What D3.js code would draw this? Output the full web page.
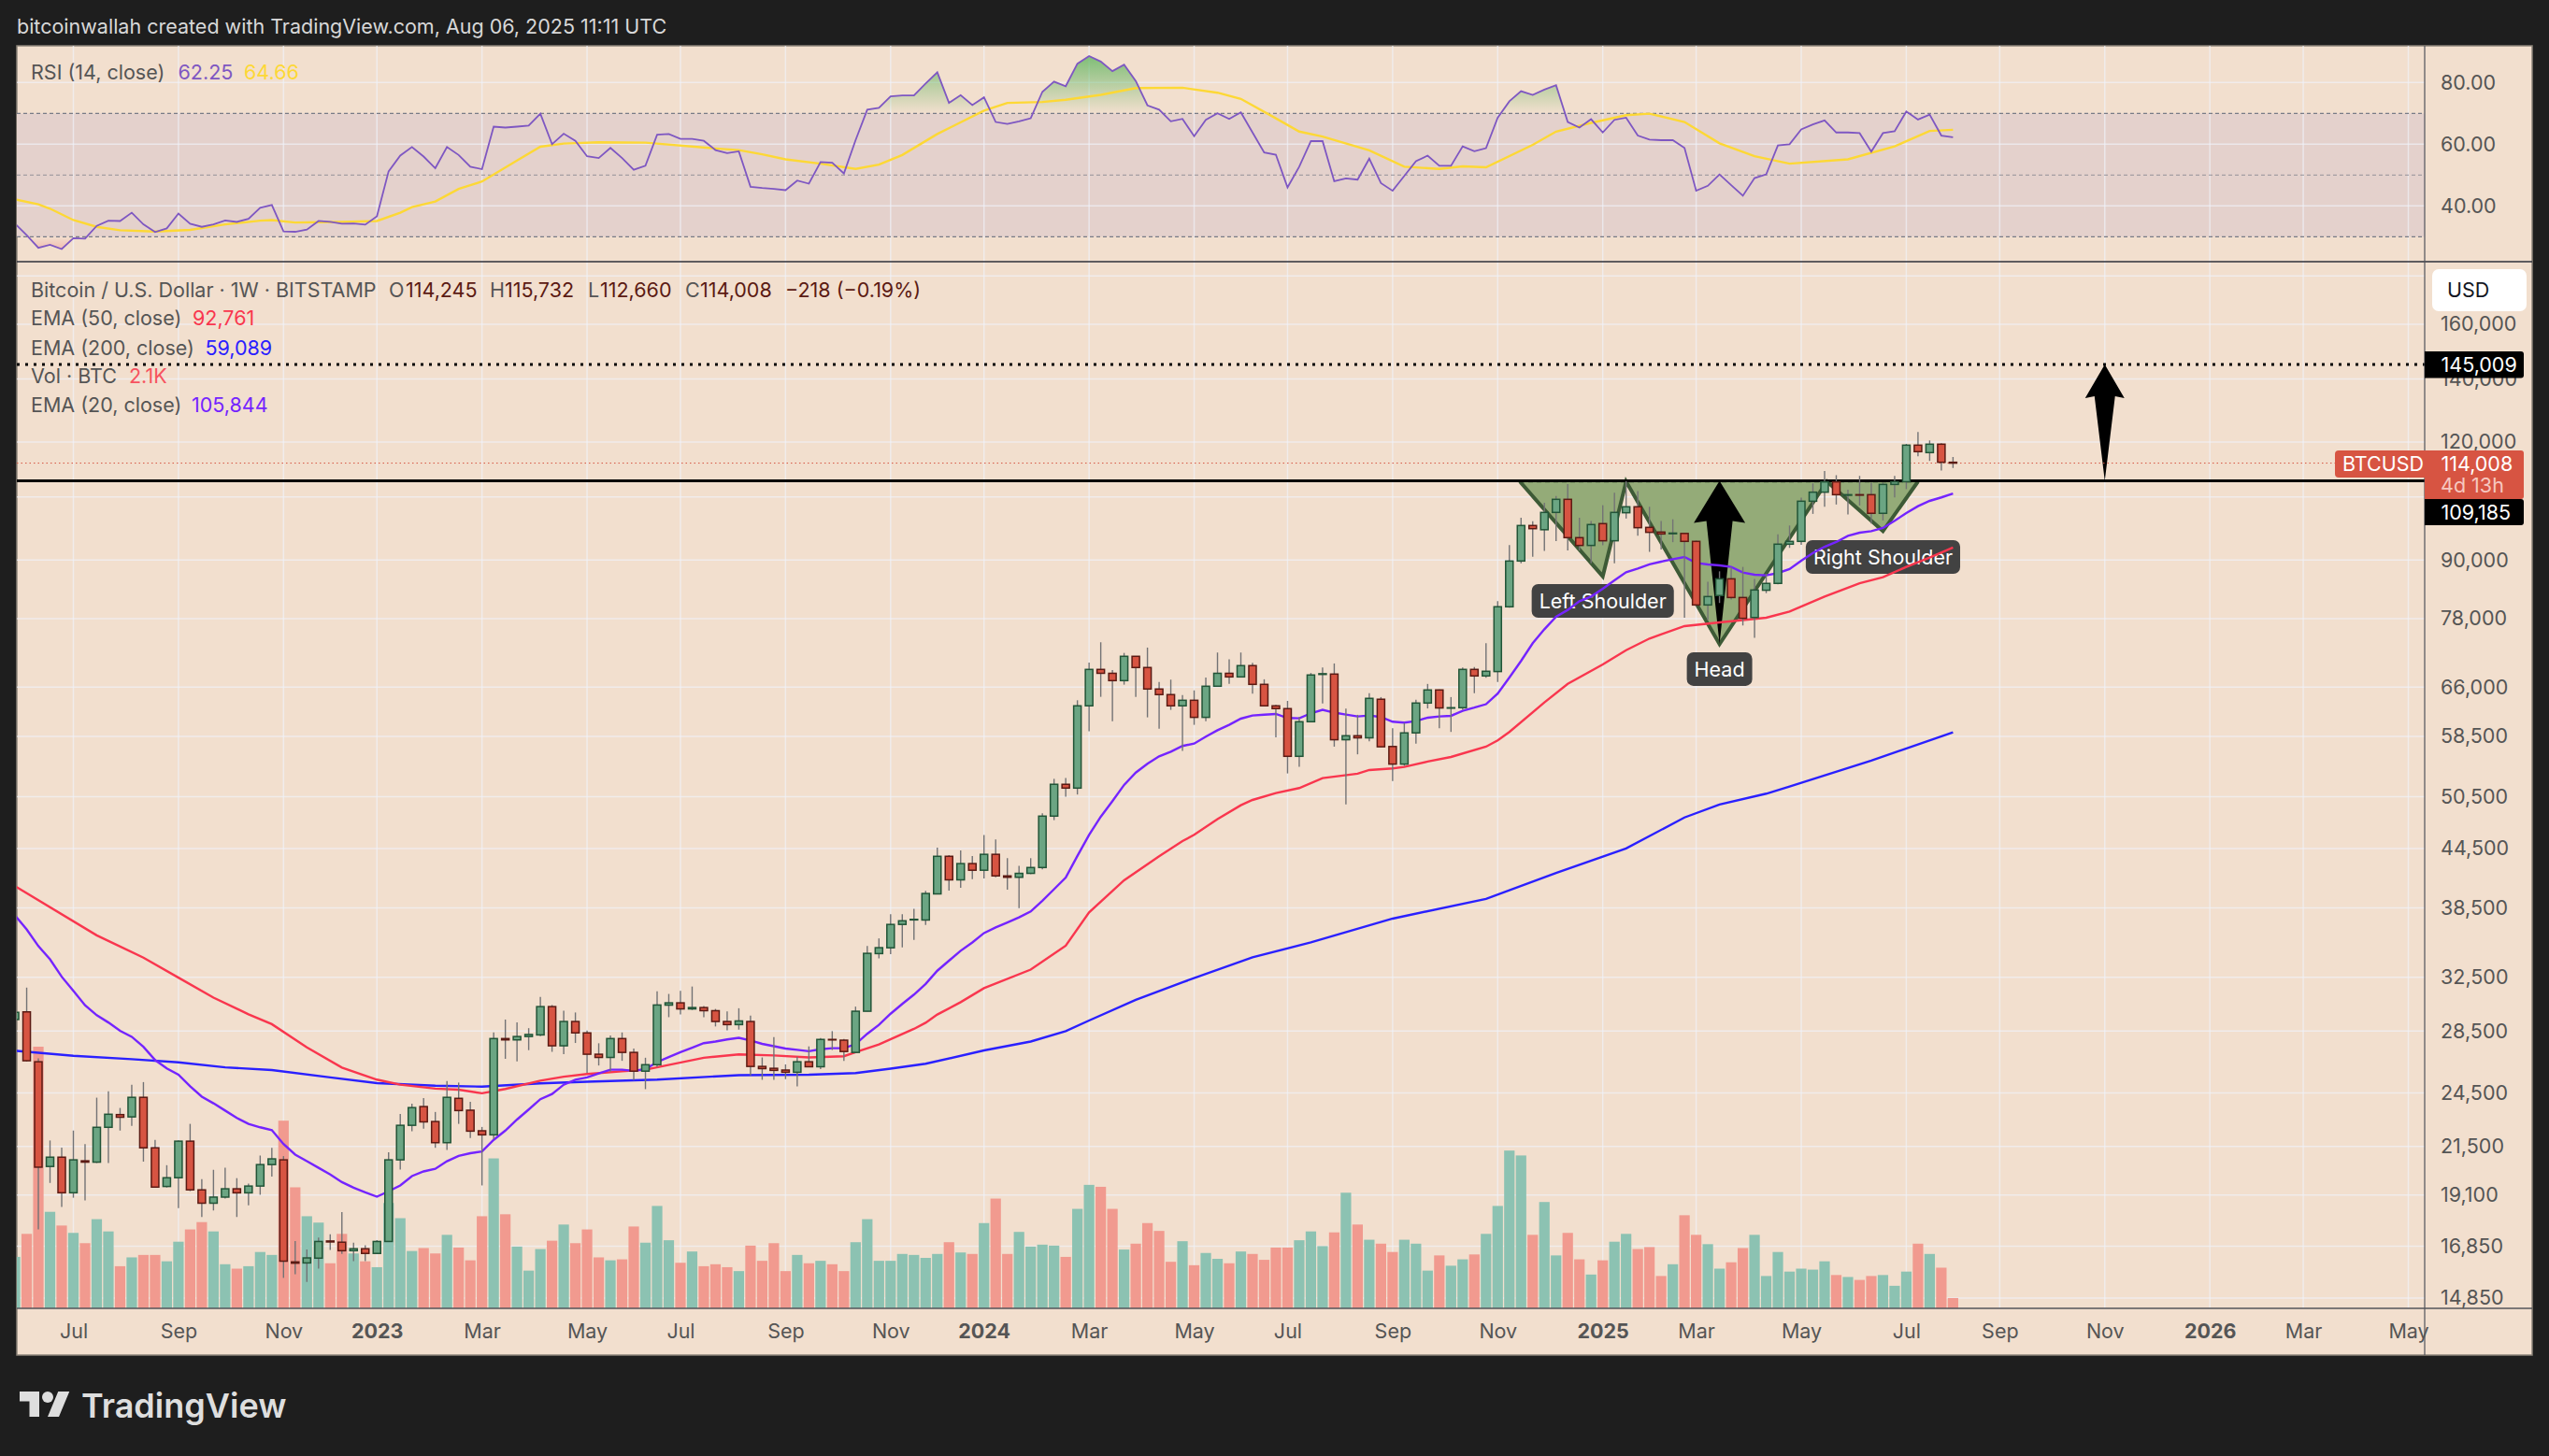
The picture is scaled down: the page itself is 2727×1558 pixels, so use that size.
<!DOCTYPE html>
<html>
<head>
<meta charset="utf-8">
<script src="https://cdn.jsdelivr.net/npm/d3@7"></script>
<style>
  html, body { margin: 0; padding: 0; background: #1e1e1e; }
  svg { display: block; }
  text { font-family: Inter, "Noto Sans", sans-serif; }
</style>
</head>
<body>
<div id="chart"></div>
<script>
// week 0 is the candle of Jul 4 2022, the first candle drawn is week -5
var firstWeek = -5;

var opens = [
  29310, 29864, 26440, 20476, 20946, 19203, 20760, 20693, 22530, 23240,
  23110, 24240, 21430, 19500, 19920, 21780, 19340, 18720, 19000, 19390,
  19200, 19520, 20570, 20810, 16220, 16180, 16370, 17070, 17020, 16670,
  16750, 16560, 17050, 20810, 22640, 23700, 22850, 21700, 24180, 23490,
  22340, 22120, 27980, 27890, 28120, 28230, 30250, 27490, 29170, 28370,
  26930, 26720, 27980, 27050, 25840, 26250, 30360, 30530, 30080, 30180,
  29950, 29170, 28950, 29170, 26140, 26020, 25910, 25770, 26440, 26120,
  27920, 27870, 27050, 29910, 34430, 34920, 36970, 37380, 37370, 39830,
  43660, 41220, 42890, 42200, 43870, 41620, 41480, 41880, 42480, 48160,
  52050, 51570, 63040, 68900, 68250, 67040, 71140, 69220, 65680, 64790,
  63040, 63900, 61290, 66130, 68250, 67650, 69540, 66430, 63040, 62610,
  55730, 60640, 68060, 68120, 58030, 58600, 58300, 64060, 57080, 54680,
  59010, 63470, 65530, 62710, 62750, 68900, 67810, 68540, 80280, 89770,
  97900, 96900, 101080, 104360, 95040, 93250, 98350, 94320, 101000, 102480,
  97450, 96350, 95960, 96020, 94180, 80640, 82520, 85950, 82120, 78210,
  83590, 85000, 93540, 94180, 103880, 106200, 108900, 105400, 105550, 105550,
  100860, 108230, 108950, 119120, 116970, 119400, 114245
];
var highs = [
  31900, 31686, 26660, 21817, 21440, 22352, 21620, 24220, 24600, 23620,
  25000, 25160, 21850, 20540, 21820, 22720, 19850, 20310, 20410, 19900,
  19640, 21030, 21430, 21000, 17070, 16720, 17210, 17350, 18320, 17000,
  16890, 17110, 21200, 23280, 23870, 24200, 23390, 25220, 25130, 23970,
  22550, 28400, 29310, 29110, 28700, 30980, 30370, 29950, 29820, 28530,
  27660, 28190, 28400, 27300, 26700, 31400, 31200, 31440, 31770, 30300,
  30080, 29900, 30130, 29600, 26720, 28080, 26270, 26760, 27450, 28010,
  28490, 27950, 30250, 35070, 35730, 37910, 37910, 38400, 40120, 44600,
  43800, 44300, 43700, 46000, 45500, 43470, 42660, 43460, 48500, 52750,
  52870, 63900, 70070, 73620, 68780, 71730, 71200, 72670, 66830, 67200,
  64720, 65460, 67560, 71800, 70620, 71800, 70000, 67260, 63200, 63800,
  61350, 68300, 69240, 69910, 62610, 61670, 65000, 64400, 59670, 60470,
  64000, 66500, 65600, 64400, 69240, 69300, 73440, 81390, 93350, 99780,
  98900, 103500, 105200, 108290, 99780, 98990, 102870, 106050, 109070, 106500,
  102480, 98990, 99400, 96100, 94400, 85340, 87540, 88490, 88490, 85950,
  87000, 95830, 97900, 104800, 108500, 111840, 110700, 106860, 110500, 108660,
  108660, 110500, 119500, 122990, 120500, 119700, 115732
];
var lows = [
  28700, 26450, 17560, 19670, 18550, 18972, 18848, 20650, 20650, 22352,
  22610, 20720, 19440, 19450, 18500, 19280, 18100, 18390, 18930, 18100,
  18620, 19110, 19980, 15600, 15740, 15450, 15960, 16700, 16540, 16250,
  16250, 16530, 17050, 20320, 22320, 22460, 21430, 21320, 22720, 21950,
  19550, 21890, 26630, 26470, 27200, 28140, 27090, 26940, 27680, 25740,
  26200, 25800, 26500, 25290, 24730, 26100, 29480, 29670, 30000, 29480,
  28820, 28550, 28600, 25580, 25300, 25300, 25340, 24900, 26100, 25970,
  27210, 26490, 27000, 29900, 34030, 34380, 34960, 35590, 36930, 39830,
  40150, 40430, 41300, 41350, 41480, 40250, 38470, 41800, 42300, 47690,
  50490, 50770, 59230, 64440, 60730, 66380, 64440, 61290, 59630, 62420,
  56460, 60180, 60730, 66100, 66500, 67600, 64950, 63000, 58370, 53450,
  54330, 60600, 63420, 57060, 49570, 56000, 57800, 57000, 52480, 54450,
  57480, 62640, 59700, 59150, 62450, 65030, 67500, 66800, 80100, 89300,
  90720, 92030, 94260, 92130, 92130, 89300, 93300, 89300, 99580, 95500,
  91800, 92340, 94000, 78160, 80400, 77700, 81030, 81700, 76700, 74430,
  83000, 84800, 92700, 93400, 100720, 102500, 103050, 100560, 102800, 98350,
  99120, 104870, 107000, 115900, 114630, 111930, 112660
];
var closes = [
  29830, 26505, 20440, 20946, 19203, 20810, 20693, 22530, 23260, 23090,
  24240, 21430, 19470, 19920, 21780, 19340, 18720, 19000, 19390, 19200,
  19520, 20570, 20860, 16250, 16170, 16380, 17050, 17030, 16670, 16750,
  16560, 17050, 20810, 22640, 23640, 22830, 21700, 24240, 23470, 22320,
  22120, 27980, 27890, 28120, 28260, 30250, 27490, 29170, 28370, 26930,
  26720, 27980, 27050, 25840, 26250, 30370, 30530, 30080, 30180, 29950,
  29170, 28950, 29210, 26140, 26000, 25890, 25770, 26440, 26120, 27920,
  27900, 27110, 29910, 34450, 34930, 36970, 37300, 37430, 39870, 43660,
  41220, 42890, 42200, 43870, 41620, 41480, 41880, 42480, 48160, 52050,
  51570, 63040, 68900, 68250, 67040, 71140, 69220, 65680, 64790, 63040,
  63900, 61290, 66130, 68250, 67650, 69540, 66430, 63040, 62610, 55730,
  60640, 67970, 68180, 58030, 58600, 58300, 64200, 57040, 54680, 59010,
  63470, 65530, 62710, 62750, 68900, 67810, 68590, 80290, 89770, 97900,
  97150, 101080, 104360, 95040, 93250, 98130, 94320, 101080, 102480, 97380,
  96280, 95900, 96100, 94180, 80640, 82310, 85950, 82120, 78050, 83640,
  85000, 93540, 94180, 103880, 106200, 108900, 105550, 105550, 105450, 100860,
  108230, 108950, 119120, 117240, 119400, 114245, 114008
];
// volume in thousands of BTC
var volumes = [
  10.5, 15.2, 53.4, 19.7, 16.9, 15.4, 13.3, 18.2, 15.7, 8.6,
  10.4, 10.9, 10.9, 9.6, 13.6, 16.1, 17.6, 15.7, 9.0, 8.1,
  8.6, 11.5, 10.9, 38.3, 24.7, 18.8, 17.5, 9.2, 15.2, 11.2,
  9.6, 8.4, 21.5, 18.4, 11.7, 12.3, 11.2, 15.0, 12.4, 9.8,
  18.8, 30.6, 19.2, 12.6, 7.7, 12.1, 13.8, 17.1, 13.3, 16.1,
  10.4, 9.8, 10.0, 16.7, 13.4, 20.9, 13.9, 9.3, 11.6, 8.6,
  9.0, 8.4, 7.6, 12.8, 9.7, 13.3, 7.6, 10.9, 9.2, 9.7,
  9.0, 7.6, 13.5, 18.2, 9.7, 9.7, 11.1, 10.9, 10.3, 11.1,
  13.5, 11.4, 11.1, 17.4, 22.4, 11.1, 15.6, 12.6, 13.0, 12.8,
  10.5, 20.3, 25.2, 24.8, 20.3, 12.0, 13.2, 17.4, 15.8, 9.5,
  13.7, 8.8, 11.3, 10.1, 9.2, 11.6, 11.1, 9.9, 12.4, 12.4,
  13.9, 15.7, 12.7, 15.5, 23.6, 17.1, 14.0, 13.2, 11.5, 14.0,
  13.2, 7.7, 10.8, 8.7, 10.0, 11.0, 15.2, 20.9, 32.2, 31.2,
  15.0, 21.7, 10.8, 15.4, 10.0, 6.9, 9.8, 13.6, 15.2, 12.1,
  12.5, 6.6, 9.0, 19.0, 15.0, 13.1, 8.1, 9.4, 12.3, 15.0,
  6.6, 11.5, 7.5, 8.1, 7.9, 9.6, 6.8, 6.4, 5.8, 6.6,
  6.8, 4.6, 7.5, 13.2, 11.1, 8.3, 2.1
];
var ema20 = [
  37800, 36520, 35070, 33950, 32540, 31430, 30350, 29620, 29100, 28510,
  28100, 27420, 26550, 26010, 25620, 24900, 24280, 23890, 23470, 23050,
  22720, 22530, 22380, 21630, 21080, 20740, 20410, 20080, 19710, 19440,
  19220, 19020, 19270, 19550, 20000, 20230, 20360, 20740, 21010, 21150,
  21240, 21850, 22350, 22960, 23530, 24130, 24440, 25000, 25310, 25450,
  25700, 25930, 25930, 25860, 25970, 26420, 26740, 27070, 27360, 27670,
  27780, 27920, 28030, 27845, 27620, 27460, 27310, 27220, 27130, 27260,
  27330, 27330, 27600, 28310, 28930, 29730, 30450, 31150, 31970, 33020,
  33840, 34670, 35380, 36200, 36700, 37150, 37610, 38160, 39170, 40290,
  41450, 43700, 46010, 48090, 49950, 51970, 53560, 54720, 55730, 56370,
  57150, 57490, 58470, 59400, 60180, 61100, 61570, 61690, 61800, 61190,
  61150, 61900, 62420, 62000, 61710, 61430, 61570, 61340, 60640, 60500,
  60730, 61240, 61430, 61520, 62280, 62760, 63290, 64940, 67550, 70340,
  73450, 76000, 78340, 79670, 81380, 82310, 83900, 85640, 87350, 88150,
  89030, 89630, 90180, 90660, 89360, 89030, 88830, 88490, 87280, 86820,
  86690, 87160, 88020, 89840, 91560, 92960, 94040, 95470, 96200, 96570,
  97310, 99030, 100920, 102630, 103960, 104850, 105844
];
var ema50Weeks = [-5, 2, 6, 9, 12, 15, 17, 20, 23, 26, 28, 31, 33, 35, 37, 40, 42, 44, 47, 49, 54, 57, 60, 63, 66, 67, 69, 72, 73, 74, 76, 78, 82, 85, 87, 90, 93, 95, 96, 98, 100, 101, 103, 105, 107, 110, 111, 113, 114, 116, 118, 121, 122, 123, 126, 128, 131, 133, 135, 138, 141, 145, 147, 150, 153, 155, 157, 159, 161];
var ema50 = [40600, 36000, 34090, 32470, 30920, 29690, 28980, 27380, 26070, 25310, 25000, 24760, 24700, 24480, 24740, 25250, 25490, 25660, 25830, 25930, 26700, 26920, 26850, 26720, 26800, 27070, 27580, 28650, 29080, 29670, 30580, 31640, 33110, 35100, 38070, 41180, 43660, 45310, 46010, 47800, 49460, 50100, 50950, 51570, 52840, 53410, 53900, 54100, 54300, 55020, 55640, 57060, 57930, 59140, 63560, 66520, 69740, 72210, 74290, 76580, 77270, 78160, 79360, 82310, 85040, 86300, 88490, 90520, 92761];
var ema200Weeks = [-5, 0, 5, 9, 13, 17, 22, 26, 31, 35, 40, 44, 50, 57, 63, 67, 70, 73, 78, 82, 85, 87, 91, 95, 101, 106, 113, 121, 127, 133, 138, 141, 145, 147, 154, 161];
var ema200 = [27160, 26830, 26610, 26400, 26080, 25910, 25450, 25100, 24940, 24880, 25080, 25180, 25310, 25590, 25620, 25720, 26000, 26310, 27180, 27780, 28490, 29240, 30750, 32100, 34120, 35380, 37500, 39350, 41930, 44500, 48000, 49550, 50870, 51760, 55150, 59089];
var rsi = [
  34.2, 30.5, 26.4, 27.4, 26.0, 29.5, 29.4, 33.5, 35.2, 35.1,
  37.8, 34.0, 31.5, 32.7, 37.5, 34.2, 33.2, 34.0, 35.3, 34.8,
  35.8, 39.4, 40.3, 31.7, 31.6, 32.3, 35.1, 34.8, 34.2, 34.3,
  33.9, 36.6, 51.2, 56.3, 59.1, 56.0, 52.2, 59.1, 56.5, 52.7,
  51.9, 65.7, 65.4, 65.7, 66.0, 69.9, 60.0, 63.4, 61.1, 56.1,
  55.5, 58.8, 55.5, 51.7, 53.0, 63.1, 63.3, 61.7, 61.7, 61.1,
  58.1, 57.1, 57.7, 46.2, 45.8, 45.5, 45.1, 48.2, 47.2, 54.2,
  54.0, 50.5, 61.3, 71.2, 71.8, 75.5, 75.8, 75.8, 79.7, 83.3,
  73.4, 75.9, 72.7, 75.2, 67.2, 66.6, 67.4, 68.4, 77.0, 80.3,
  78.8, 86.1, 88.6, 86.8, 83.7, 85.8, 80.5, 72.6, 71.2, 67.4,
  68.2, 62.6, 67.9, 70.0, 68.2, 70.3, 63.8, 57.3, 56.6, 46.0,
  52.7, 61.0, 61.0, 48.0, 48.9, 48.5, 55.3, 47.4, 44.9, 49.7,
  54.5, 56.3, 53.0, 53.0, 59.3, 57.7, 58.7, 68.6, 73.9, 77.2,
  76.0, 77.7, 79.1, 67.2, 65.4, 68.1, 63.8, 67.9, 68.6, 62.8,
  61.5, 61.3, 61.3, 58.8, 44.9, 46.5, 50.2, 46.7, 43.3, 49.0,
  50.2, 59.6, 60.0, 64.8, 66.4, 67.7, 63.8, 63.8, 63.6, 57.6,
  63.6, 64.2, 70.6, 68.0, 69.6, 62.8, 62.25
];
var rsiMaWeeks = [-5, -3, -2, 0, 2, 4, 7, 10, 13, 16, 17, 19, 21, 23, 26, 28, 29, 31, 33, 35, 38, 40, 42, 45, 49, 55, 57, 59, 61, 64, 67, 69, 71, 74, 78, 80, 83, 85, 88, 91, 95, 98, 100, 103, 105, 107, 111, 114, 117, 119, 121, 125, 127, 130, 133, 135, 138, 141, 144, 147, 152, 156, 159, 161];
var rsiMa = [42.1, 40.5, 39.1, 35.4, 33.2, 32.1, 31.7, 32.2, 34.0, 35.2, 35.4, 34.6, 34.7, 34.8, 35.1, 37.8, 39.6, 41.4, 45.5, 47.9, 54.7, 59.2, 60.2, 60.6, 60.5, 58.6, 58.1, 56.7, 55.1, 53.7, 52.0, 53.4, 56.5, 63.3, 70.9, 73.4, 73.7, 74.4, 76.0, 78.2, 78.3, 76.7, 74.7, 68.4, 64.1, 62.5, 58.0, 52.7, 52.0, 52.8, 52.5, 59.8, 64.1, 66.9, 69.4, 69.9, 67.2, 60.3, 56.1, 53.7, 55.1, 59.3, 64.3, 64.66];

var monthWeeks = [0, 9, 18, 26, 35, 44, 52, 61, 70, 78, 87, 96, 104, 113, 122, 131, 139, 148, 157, 165, 174, 183, 191, 200];
var monthLabels = ["Jul", "Sep", "Nov", "2023", "Mar", "May", "Jul", "Sep", "Nov", "2024", "Mar", "May", "Jul", "Sep", "Nov", "2025", "Mar", "May", "Jul", "Sep", "Nov", "2026", "Mar", "May"];
var priceTicks = [180000, 160000, 140000, 120000, 105000, 90000, 78000, 66000, 58500, 50500, 44500, 38500, 32500, 28500, 24500, 21500, 19100, 16850, 14850];
var rsiTicks = [80, 60, 40];

// the drawn pattern, week and price of each corner
var patternWeeks = [123.9, 131, 133, 141, 150.2, 155, 158];
var patternPrices = [109000, 86480, 109000, 73280, 109000, 96570, 109000];
var necklinePrice = 109185;
var targetPrice = 145009;
var lastPrice = 114008;
var targetWeek = 174;
var headWeek = 141;

var labelWeeks = [131, 141, 155];
var labelPrices = [81450, 68960, 90670];
var labelTexts = ["Left Shoulder", "Head", "Right Shoulder"];

var svgWidth = 2727, svgHeight = 1558;
var plotLeft = 18, plotRight = 2594, panelRight = 2709;
var plotTop = 49, rsiBottom = 280, priceBottom = 1400, panelBottom = 1450;

var fontSize = 21.5;
var textGray = "#555555";
var upColor = "#6ba583", downColor = "#d75442";
var upBorder = "#225437", downBorder = "#5b1a13", wickColor = "#737375";
var gridColor = "rgba(240,243,250,0.65)";

var weeks = opens.map(function(d, k) { return firstWeek + k; });

var x = d3.scaleLinear().domain([0, 161]).range([78.5, 78.5 + 161 * 12.49]);
var y = d3.scaleLog().domain([14850, 160000]).range([1389, 347]);
var yRsi = d3.scaleLinear().domain([30, 70]).range([253.3, 121.3]);
var yVol = d3.scaleLinear().domain([0, 53.4]).range([priceBottom, 1120]);

var svg = d3.select("#chart").append("svg")
  .attr("width", svgWidth)
  .attr("height", svgHeight);

var defs = svg.append("defs");
defs.append("clipPath").attr("id", "clipRsi").append("rect")
  .attr("x", plotLeft).attr("y", plotTop).attr("width", plotRight - plotLeft).attr("height", rsiBottom - plotTop);
defs.append("clipPath").attr("id", "clipPrice").append("rect")
  .attr("x", plotLeft).attr("y", rsiBottom).attr("width", plotRight - plotLeft).attr("height", priceBottom - rsiBottom);
defs.append("clipPath").attr("id", "clipOver").append("rect")
  .attr("x", plotLeft).attr("y", plotTop).attr("width", plotRight - plotLeft).attr("height", yRsi(70) - plotTop);
defs.append("clipPath").attr("id", "clipUnder").append("rect")
  .attr("x", plotLeft).attr("y", yRsi(30)).attr("width", plotRight - plotLeft).attr("height", rsiBottom - yRsi(30));

var overGrad = defs.append("linearGradient").attr("id", "overGrad")
  .attr("gradientUnits", "userSpaceOnUse").attr("x1", 0).attr("x2", 0).attr("y1", yRsi(90)).attr("y2", yRsi(70));
overGrad.append("stop").attr("offset", 0).attr("stop-color", "#4caf50").attr("stop-opacity", 0.75);
overGrad.append("stop").attr("offset", 1).attr("stop-color", "#4caf50").attr("stop-opacity", 0);
var underGrad = defs.append("linearGradient").attr("id", "underGrad")
  .attr("gradientUnits", "userSpaceOnUse").attr("x1", 0).attr("x2", 0).attr("y1", yRsi(30)).attr("y2", yRsi(20));
underGrad.append("stop").attr("offset", 0).attr("stop-color", "#ef5350").attr("stop-opacity", 0);
underGrad.append("stop").attr("offset", 1).attr("stop-color", "#ef5350").attr("stop-opacity", 0.6);

// panel
svg.append("rect")
  .attr("x", plotLeft).attr("y", plotTop)
  .attr("width", panelRight - plotLeft).attr("height", panelBottom - plotTop)
  .attr("fill", "#f2dfce")
  .attr("stroke", "#8b8378").attr("stroke-width", 1.5);

// RSI band
svg.append("rect")
  .attr("x", plotLeft).attr("y", yRsi(70))
  .attr("width", plotRight - plotLeft).attr("height", yRsi(30) - yRsi(70))
  .attr("fill", "#e4d1cc");

// grid
svg.append("g").selectAll("line").data(monthWeeks).enter().append("line")
  .attr("x1", d => x(d)).attr("x2", d => x(d))
  .attr("y1", plotTop).attr("y2", priceBottom)
  .attr("stroke", gridColor).attr("stroke-width", 1.5);
svg.append("g").selectAll("line").data(priceTicks).enter().append("line")
  .attr("x1", plotLeft).attr("x2", plotRight)
  .attr("y1", d => y(d)).attr("y2", d => y(d))
  .attr("stroke", gridColor).attr("stroke-width", 1.5);
svg.append("g").selectAll("line").data(rsiTicks).enter().append("line")
  .attr("x1", plotLeft).attr("x2", plotRight)
  .attr("y1", d => yRsi(d)).attr("y2", d => yRsi(d))
  .attr("stroke", gridColor).attr("stroke-width", 1.5);

// RSI levels
svg.append("g").selectAll("line").data([70, 50, 30]).enter().append("line")
  .attr("x1", plotLeft).attr("x2", plotRight)
  .attr("y1", d => yRsi(d)).attr("y2", d => yRsi(d))
  .attr("stroke", "#787b86")
  .attr("stroke-opacity", d => d === 50 ? 0.6 : 1)
  .attr("stroke-width", 1.2)
  .attr("stroke-dasharray", "4 3");

// RSI lines
var rsiPane = svg.append("g").attr("clip-path", "url(#clipRsi)");
var rsiLine = d3.line().x((d, k) => x(weeks[k])).y(d => yRsi(d));
var rsiMaLine = d3.line().x((d, k) => x(rsiMaWeeks[k])).y(d => yRsi(d));

rsiPane.append("path")
  .attr("d", d3.area().x((d, k) => x(weeks[k])).y0(yRsi(70)).y1(d => yRsi(d))(rsi))
  .attr("fill", "url(#overGrad)")
  .attr("clip-path", "url(#clipOver)");
rsiPane.append("path")
  .attr("d", d3.area().x((d, k) => x(weeks[k])).y0(yRsi(30)).y1(d => yRsi(d))(rsi))
  .attr("fill", "url(#underGrad)")
  .attr("clip-path", "url(#clipUnder)");
rsiPane.append("path")
  .attr("d", rsiMaLine(rsiMa))
  .attr("fill", "none").attr("stroke", "#fdd835").attr("stroke-width", 2.4);
rsiPane.append("path")
  .attr("d", rsiLine(rsi))
  .attr("fill", "none").attr("stroke", "#7e57c2").attr("stroke-width", 1.8);

// price pane
var pricePane = svg.append("g").attr("clip-path", "url(#clipPrice)");

var patternPoints = patternWeeks.map((d, k) => [x(d), y(patternPrices[k])]);
[[0, 1, 2], [2, 3, 4], [4, 5, 6]].forEach(function(tri) {
  pricePane.append("path")
    .attr("d", d3.line()(tri.map(k => patternPoints[k])) + "Z")
    .attr("fill", "#94ab78")
    .attr("stroke", "none");
});
pricePane.append("line")
  .attr("x1", patternPoints[0][0]).attr("x2", patternPoints[6][0])
  .attr("y1", y(109000)).attr("y2", y(109000))
  .attr("stroke", "#3d5a36").attr("stroke-width", 2).attr("stroke-dasharray", "5 4");
pricePane.append("path")
  .attr("d", d3.line()(patternPoints))
  .attr("fill", "none").attr("stroke", "#3d5a36").attr("stroke-width", 4).attr("stroke-linejoin", "miter");

// arrow pointing up, sizes in pixels
function drawArrow(week, lowPrice, highPrice, wing, shaft, headLen) {
  var cx = x(week), top = y(highPrice), bottom = y(lowPrice);
  var pts = [[cx, top], [cx + wing, top + headLen], [cx + shaft, top + headLen - 2],
    [cx, bottom], [cx - shaft, top + headLen - 2], [cx - wing, top + headLen]];
  pricePane.append("path")
    .attr("d", d3.line()(pts) + "Z")
    .attr("fill", "#000000");
}
drawArrow(headWeek, 73280, necklinePrice, 27.5, 14, 45);
drawArrow(targetWeek, necklinePrice, targetPrice, 21, 11, 36);

// labels of the pattern
labelTexts.forEach(function(label, k) {
  var g = pricePane.append("g")
    .attr("transform", "translate(" + x(labelWeeks[k]) + "," + y(labelPrices[k]) + ")");
  var t = g.append("text")
    .attr("text-anchor", "middle").attr("dy", "0.36em")
    .attr("fill", "#ffffff").attr("font-size", fontSize)
    .text(label);
  var w = t.node().getComputedTextLength() + 16;
  g.insert("rect", "text")
    .attr("x", -w / 2).attr("y", -18).attr("width", w).attr("height", 36)
    .attr("rx", 7).attr("fill", "#424242");
});

// levels
pricePane.append("line")
  .attr("x1", plotLeft).attr("x2", plotRight)
  .attr("y1", y(lastPrice)).attr("y2", y(lastPrice))
  .attr("stroke", "#d75442").attr("stroke-width", 1).attr("stroke-dasharray", "1.5 3");
pricePane.append("line")
  .attr("x1", plotLeft).attr("x2", plotRight)
  .attr("y1", y(necklinePrice)).attr("y2", y(necklinePrice))
  .attr("stroke", "#000000").attr("stroke-width", 3);
pricePane.append("line")
  .attr("x1", plotLeft).attr("x2", plotRight)
  .attr("y1", y(targetPrice)).attr("y2", y(targetPrice))
  .attr("stroke", "#000000").attr("stroke-width", 3).attr("stroke-dasharray", "3 6");

// volume
pricePane.append("g").selectAll("rect").data(volumes).enter().append("rect")
  .attr("x", (d, k) => x(weeks[k]) - 5.6)
  .attr("width", 11.2)
  .attr("y", d => yVol(d))
  .attr("height", d => priceBottom - yVol(d))
  .attr("fill", (d, k) => closes[k] >= opens[k] ? "#8cc2b2" : "#f19a8f");

// EMA lines
var emaLine = d3.line().x(d => x(d[0])).y(d => y(d[1]));
pricePane.append("path")
  .attr("d", emaLine(ema200.map((d, k) => [ema200Weeks[k], d])))
  .attr("fill", "none").attr("stroke", "#2a20ff").attr("stroke-width", 2.4);
pricePane.append("path")
  .attr("d", emaLine(ema50.map((d, k) => [ema50Weeks[k], d])))
  .attr("fill", "none").attr("stroke", "#f9364e").attr("stroke-width", 2.4);
pricePane.append("path")
  .attr("d", emaLine(ema20.map((d, k) => [weeks[k], d])))
  .attr("fill", "none").attr("stroke", "#7424ff").attr("stroke-width", 2.4);

// candles
var candles = pricePane.append("g").selectAll("g").data(weeks).enter().append("g");
candles.append("line")
  .attr("x1", d => x(d)).attr("x2", d => x(d))
  .attr("y1", (d, k) => y(highs[k])).attr("y2", (d, k) => y(lows[k]))
  .attr("stroke", wickColor).attr("stroke-width", 1.4);
candles.append("rect")
  .attr("x", d => x(d) - 4)
  .attr("width", 8)
  .attr("y", (d, k) => y(Math.max(opens[k], closes[k])))
  .attr("height", (d, k) => Math.max(0.5, y(Math.min(opens[k], closes[k])) - y(Math.max(opens[k], closes[k]))))
  .attr("fill", (d, k) => closes[k] >= opens[k] ? upColor : downColor)
  .attr("stroke", (d, k) => closes[k] >= opens[k] ? upBorder : downBorder)
  .attr("stroke-width", 1.5);

// panel separators
svg.append("line").attr("x1", plotLeft).attr("x2", panelRight)
  .attr("y1", rsiBottom).attr("y2", rsiBottom)
  .attr("stroke", "#2e303a").attr("stroke-width", 1.5);
svg.append("line").attr("x1", plotRight).attr("x2", plotRight)
  .attr("y1", plotTop).attr("y2", panelBottom)
  .attr("stroke", "#50525c").attr("stroke-width", 1.2);
svg.append("line").attr("x1", plotLeft).attr("x2", panelRight)
  .attr("y1", priceBottom).attr("y2", priceBottom)
  .attr("stroke", "#55555a").attr("stroke-width", 1.5);

// axes
function styleAxis(g) {
  g.select(".domain").remove();
  g.selectAll("text")
    .attr("font-size", fontSize)
    .attr("font-family", "Inter, sans-serif")
    .attr("fill", textGray);
}
var rightAxis = d3.axisRight(y)
  .tickValues(priceTicks.filter(d => d !== 105000 && d !== 180000))
  .tickFormat(d3.format(","))
  .tickSize(0).tickPadding(17);
svg.append("g").attr("transform", "translate(" + plotRight + ",0)").call(rightAxis).call(styleAxis);

var rsiAxis = d3.axisRight(yRsi)
  .tickValues(rsiTicks)
  .tickFormat(d3.format(".2f"))
  .tickSize(0).tickPadding(17);
svg.append("g").attr("transform", "translate(" + plotRight + ",0)").call(rsiAxis).call(styleAxis);

var bottomAxis = d3.axisBottom(x)
  .tickValues(monthWeeks)
  .tickFormat((d, k) => monthLabels[k])
  .tickSize(0).tickPadding(17);
svg.append("g").attr("transform", "translate(0," + priceBottom + ")").call(bottomAxis).call(styleAxis)
  .selectAll("text")
  .attr("font-weight", (d, k) => /^20/.test(monthLabels[k]) ? 700 : 400);

// USD button
svg.append("rect")
  .attr("x", 2602).attr("y", 288).attr("width", 101).attr("height", 45)
  .attr("rx", 7).attr("fill", "#ffffff");
svg.append("text").attr("x", 2618).attr("y", 310).attr("dy", "0.36em")
  .attr("font-size", fontSize).attr("fill", "#131722").text("USD");

// price tags
function tagPath(top, bottom, fill) {
  svg.append("path")
    .attr("d", "M" + plotRight + "," + top + "H2697q3,0 3,3V" + (bottom - 3) + "q0,3 -3,3H" + plotRight + "Z")
    .attr("fill", fill);
}
function tagText(tagX, tagY, label, color) {
  svg.append("text").attr("x", tagX).attr("y", tagY).attr("dy", "0.36em")
    .attr("font-size", fontSize).attr("fill", color).text(label);
}
tagPath(y(targetPrice) - 14, y(targetPrice) + 14.5, "#000000");
tagText(2611.5, y(targetPrice), d3.format(",")(targetPrice), "#ffffff");

// the neckline tag is pushed down below the last price tag
tagPath(534, 562, "#000000");
tagText(2611.5, 548, d3.format(",")(necklinePrice), "#ffffff");

tagPath(482, 534, "#d75442");
svg.append("path")
  .attr("d", "M" + plotRight + ",482H2502q-4,0 -4,4V507q0,4 4,4H" + plotRight + "Z")
  .attr("fill", "#d75442");
tagText(2506, 496, "BTCUSD", "#ffffff");
tagText(2611.5, 496, d3.format(",")(lastPrice), "#ffffff");
tagText(2611, 519, "4d 13h", "#f6c8c0");

// legends
function legendRow(rowY, parts) {
  parts.forEach(function(p) {
    svg.append("text").attr("x", p[0]).attr("y", rowY).attr("dy", "0.36em")
      .attr("font-size", fontSize).attr("fill", p[2]).text(p[1]);
  });
}
legendRow(77, [[33, "RSI (14, close)", textGray], [190.5, "62.25", "#7e57c2"], [261, "64.66", "#fdd835"]]);
legendRow(310, [[33, "Bitcoin / U.S. Dollar · 1W · BITSTAMP", textGray],
  [416, "O", textGray], [434, "114,245", "#5b1a13"],
  [524, "H", textGray], [540, "115,732", "#5b1a13"],
  [629, "L", textGray], [642, "112,660", "#5b1a13"],
  [733, "C", textGray], [749, "114,008", "#5b1a13"],
  [840, "−218 (−0.19%)", "#5b1a13"]]);
legendRow(340, [[33, "EMA (50, close)", textGray], [206, "92,761", "#f9364e"]]);
legendRow(372, [[33, "EMA (200, close)", textGray], [219.5, "59,089", "#2a20ff"]]);
legendRow(402, [[33, "Vol · BTC", textGray], [138, "2.1K", "#f7525f"]]);
legendRow(433, [[33, "EMA (20, close)", textGray], [205, "105,844", "#7424ff"]]);

// header
svg.append("text").attr("x", 18).attr("y", 28).attr("dy", "0.36em")
  .attr("font-size", fontSize).attr("fill", "#d8d8d8")
  .text("bitcoinwallah created with TradingView.com, Aug 06, 2025 11:11 UTC");

// logo
var logo = svg.append("g").attr("transform", "translate(21,1483) scale(1.5)").attr("fill", "#dedede");
logo.append("path").attr("d", "M14 22H7V11H0V4h14v18zM28 22h-8l7.5-18h8L28 22z");
logo.append("circle").attr("cx", 20).attr("cy", 8).attr("r", 4);
svg.append("text").attr("x", 87).attr("y", 1517)
  .attr("font-size", 36).attr("font-weight", 600).attr("fill", "#dedede").text("TradingView");
</script>
</body>
</html>
